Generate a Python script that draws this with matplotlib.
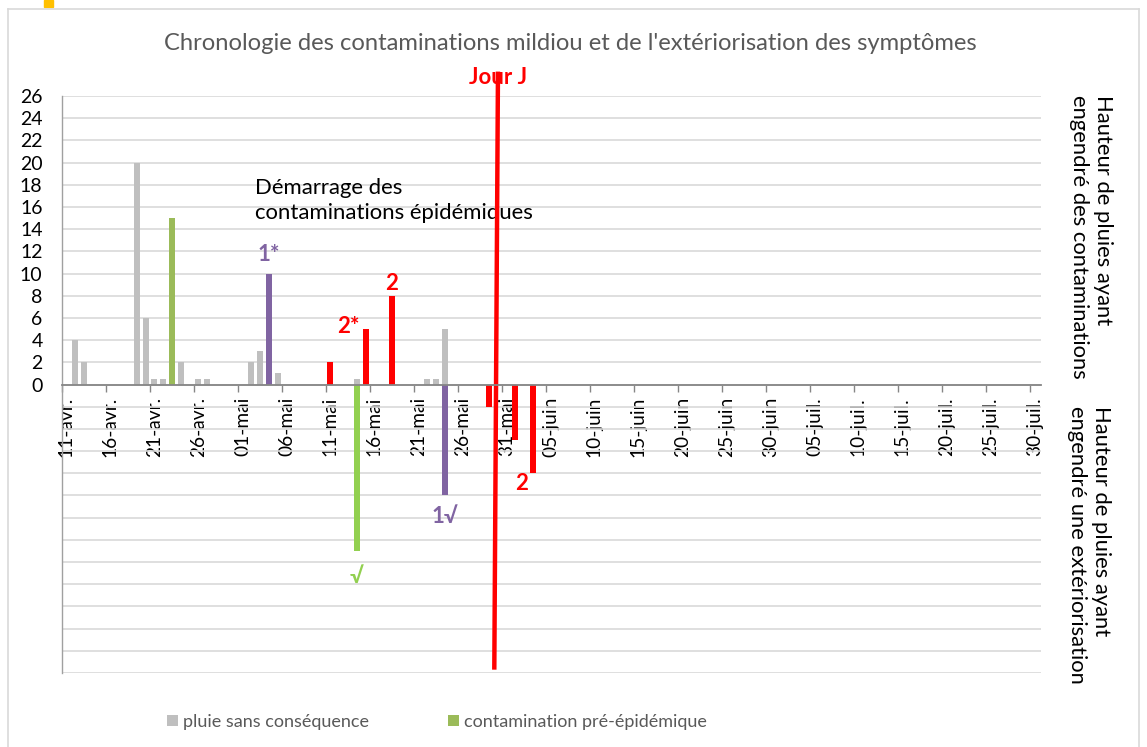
import matplotlib
matplotlib.use("Agg")
import matplotlib.pyplot as plt
import matplotlib.dates as mdates
from matplotlib.lines import Line2D
from matplotlib.patches import Rectangle
import pandas as pd

plt.rcParams['font.family'] = ['Lato', 'DejaVu Sans']

YEAR = "2021"
start_date = "11/04"
end_date = "30/07"

# pluie sans conséquence
pluie_dates = ["12/04", "13/04", "19/04", "20/04", "21/04", "22/04", "24/04", "26/04", "27/04",
               "02/05", "03/05", "05/05", "14/05", "22/05", "23/05", "24/05"]
pluie_vals = [4, 2, 20, 6, 0.5, 0.5, 2, 0.5, 0.5, 2, 3, 1, 0.5, 0.5, 0.5, 5]

# contamination pré-épidémique
pre_dates = ["23/04"]
pre_vals = [15]
pre_ext_dates = ["14/05"]
pre_ext_vals = [-15]

# contamination 1 (violet)
c1_dates = ["04/05"]
c1_vals = [10]
c1_ext_dates = ["24/05"]
c1_ext_vals = [-10]

# contamination 2 (rouge)
c2_dates = ["11/05", "15/05", "18/05"]
c2_vals = [2, 5, 8]
c2_ext_dates = ["29/05", "01/06", "03/06"]
c2_ext_vals = [-2, -5, -8]

# Jour J line
jourj_times = ["30/05 01:00", "29/05 15:00"]
jourj_vals = [28.2, -25.7]

tick_labels = ["11-avr.", "16-avr.", "21-avr.", "26-avr.", "01-mai", "06-mai", "11-mai", "16-mai",
               "21-mai", "26-mai", "31-mai", "05-juin", "10-juin", "15-juin", "20-juin", "25-juin",
               "30-juin", "05-juil.", "10-juil.", "15-juil.", "20-juil.", "25-juil.", "30-juil."]

y_labels = list(range(0, 27, 2))
grid_vals = list(range(-26, 27, 2))


def to_dt(lst):
    out = []
    for s in lst:
        parts = s.split(" ")
        txt = parts[0] + "/" + YEAR + ((" " + parts[1]) if len(parts) > 1 else "")
        out.append(txt)
    return pd.to_datetime(out, format="mixed", dayfirst=True)


W, H = 1147, 747
fig = plt.figure(figsize=(W / 100, H / 100), dpi=100)
ax = fig.add_axes([62 / W, (H - 673) / H, (1041 - 62) / W, (673 - 96) / H])

BW = 0.68
GRAY = "#bfbfbf"
GREEN = "#9bbb59"
GREEN2 = "#92d050"
PURPLE = "#8064a2"
RED = "#ff0000"

b_pluie = ax.bar(to_dt(pluie_dates), pluie_vals, width=BW, color=GRAY, zorder=3)
b_pre = ax.bar(to_dt(pre_dates), pre_vals, width=BW, color=GREEN, zorder=3)
ax.bar(to_dt(pre_ext_dates), pre_ext_vals, width=BW, color=GREEN2, zorder=3)
ax.bar(to_dt(c1_dates), c1_vals, width=BW, color=PURPLE, zorder=3)
ax.bar(to_dt(c1_ext_dates), c1_ext_vals, width=BW, color=PURPLE, zorder=3)
ax.bar(to_dt(c2_dates), c2_vals, width=BW, color=RED, zorder=3)
ax.bar(to_dt(c2_ext_dates), c2_ext_vals, width=BW, color=RED, zorder=3)
ax.plot(to_dt(jourj_times), jourj_vals, color=RED, lw=3.2, solid_capstyle='butt', zorder=4, clip_on=False)

t0 = mdates.date2num(to_dt([start_date])[0])
t1 = mdates.date2num(to_dt([end_date])[0])
ax.set_xlim(t0 - 0.5, t1 + 0.75)
ax.set_ylim(-26, 26)

label_pos = [t0 + 5 * i for i in range(len(tick_labels))]
ax.set_xticks(label_pos)
ax.set_xticklabels(tick_labels)
ax.set_xticks([p - 0.5 for p in label_pos], minor=True)
ax.tick_params(axis='x', which='major', length=0, pad=9, labelrotation=90, labelsize=13.8,
               labelcolor="black")
ax.tick_params(axis='x', which='minor', length=5, width=1, color="#868686", direction='out')

ax.set_yticks(grid_vals)
ax.set_yticklabels([str(v) if v >= 0 else "" for v in grid_vals])
ax.tick_params(axis='y', length=0, pad=14, labelsize=14)
ax.grid(axis='y', color="#d9d9d9", lw=1.2, zorder=0)
ax.set_axisbelow(True)

for s in ['top', 'right']:
    ax.spines[s].set_visible(False)
ax.spines['bottom'].set_position(('data', 0))
ax.spines['bottom'].set_color("#868686")
ax.spines['bottom'].set_linewidth(1.3)
ax.spines['bottom'].set_zorder(5)
ax.spines['left'].set_color("#a0a0a0")
ax.spines['left'].set_linewidth(1.0)

# annotations
bold = dict(fontsize=16, fontweight='bold', ha='center', va='center')
ax.text(t0 + 23, 11.7, "1*", color=PURPLE, **bold)
ax.text(t0 + 32, 5.2, "2*", color=RED, **bold)
ax.text(t0 + 37, 9.1, "2", color=RED, **bold)
ax.text(t0 + 43, -11.9, "1√", color=PURPLE, **bold)
ax.text(t0 + 33, -17.3, "√", color=GREEN2, **bold)
ax.text(t0 + 51.7, -8.9, "2", color=RED, **bold)
ax.text(t0 + 49.05, 27.7, "Jour J", color=RED, clip_on=False, **bold)
ax.text(t0 + 21.4, 16.55, "Démarrage des\ncontaminations épidémiques", fontsize=15.9,
        ha='left', va='center', linespacing=1.3, color="black")

fig.text(570 / W, 1 - 43 / H,
         "Chronologie des contaminations mildiou et de l'extériorisation des symptômes",
         ha='center', va='center', fontsize=17.1, color="#595959")

fig.text(1091 / W, 1 - 95 / H, "Hauteur de pluies ayant\nengendré des contaminations",
         rotation=-90, ha='center', va='top', multialignment='left', fontsize=15.8, color="black")
fig.text(1089 / W, 1 - 406 / H, "Hauteur de pluies ayant\nengendré une extériorisation",
         rotation=-90, ha='center', va='top', multialignment='left', fontsize=15.8, color="black")

leg = fig.legend([b_pluie, b_pre], ["pluie sans conséquence", "contamination pré-épidémique"],
                 loc='center', bbox_to_anchor=(437 / W, 1 - 722 / H), ncol=2, frameon=False,
                 fontsize=13.0, handlelength=0.6, handleheight=0.6, handletextpad=0.25,
                 columnspacing=4.4, labelcolor="#595959")

# chart frame
fc = "#d9d9d9"
fig.add_artist(Line2D([8 / W, 8 / W], [0, 1 - 9 / H], color=fc, lw=1.2))
fig.add_artist(Line2D([8 / W, 1139 / W], [1 - 9 / H, 1 - 9 / H], color=fc, lw=1.2))
fig.add_artist(Line2D([1139 / W, 1139 / W], [0, 1 - 9 / H], color=fc, lw=1.2))
fig.add_artist(Rectangle((44 / W, 1 - 7 / H), 9 / W, 7 / H, color="#ffc000", transform=fig.transFigure))

fig.savefig("out.png", dpi=100)
